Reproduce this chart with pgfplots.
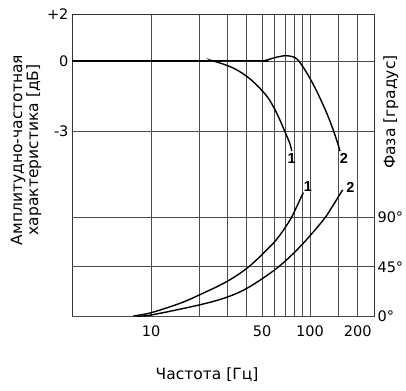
\documentclass[border=0pt]{standalone}
\usepackage{fontspec}
\setmainfont{DejaVu Sans}
\newfontfamily\labfont{Liberation Sans}
\usepackage{pgfplots}
\pgfplotsset{compat=1.18}
\newcommand{\fs}{\fontsize{14.5}{14.5}\selectfont}
\newcommand{\fl}{\fontsize{15.5}{14.5}\selectfont}
\begin{document}
\begin{tikzpicture}
\useasboundingbox (-72pt,-74pt) rectangle (334pt,316pt);
\begin{semilogxaxis}[
  scale only axis, width=302pt, height=302pt,
  xmin=3.18, xmax=253,
  at={(0pt,0pt)}, anchor=south west,
  clip=false,
  major tick length=0pt, minor tick length=0pt,
  tick label style={font=\fs},
  axis line style={line width=0.8pt, black!80},
  grid style={line width=0.7pt, black!70},
  ymin=-10.88, ymax=2,
  xtick={10,50,100,200}, xticklabels={10,50,100,200},
  minor xtick={20,30,40,60,70,80,90,150},
  xmajorgrids, xminorgrids,
  ytick={-3,0,2}, yticklabels={-3,0,+2},
  ymajorgrids,
  xticklabel style={yshift=-6pt},
]
\addplot[black, line width=1.4pt, smooth, tension=0.5] coordinates {
(3.18,0) (20,0) (24.4,0) (33.0,-0.31) (42.0,-0.77) (53.5,-1.50) (61.8,-2.23) (69.7,-3.03) (75.0,-3.55) (76.8,-3.85)};
\addplot[black, line width=1.4pt, smooth, tension=0.5] coordinates {
(3.18,0) (45,0) (50.9,0) (61.8,0.16) (71.5,0.22) (82.6,0.09) (95.5,-0.51) (110.4,-1.30) (127.6,-2.23) (140.4,-2.96) (150.9,-3.60) (154.6,-3.85)};
\node[anchor=north, inner sep=1pt, yshift=-1pt, font=\labfont\bfseries\fs] at (axis cs:76.8,-3.85) {1};
\node[anchor=north, inner sep=1pt, xshift=4pt, yshift=-1pt, font=\labfont\bfseries\fs] at (axis cs:154.6,-3.85) {2};
\node[font=\fl, rotate=90, align=center] at (axis description cs:-0.152,0.55) {Амплитудно-частотная\\характеристика [дБ]};
\node[font=\fl] at (axis description cs:0.447,-0.195) {Частота [Гц]};
\node[font=\fl, rotate=90] at (axis description cs:1.056,0.675) {Фаза [градус]};
\end{semilogxaxis}
\begin{semilogxaxis}[
  scale only axis, width=302pt, height=302pt,
  xmin=3.18, xmax=253,
  at={(0pt,0pt)}, anchor=south west,
  clip=false,
  major tick length=0pt, minor tick length=0pt,
  tick label style={font=\fs},
  axis line style={line width=0.8pt, black!80},
  grid style={line width=0.7pt, black!70},
  ymin=0, ymax=276,
  axis y line*=right, axis x line=none,
  ytick={0,45,90}, yticklabels={0°,45°,90°},
  ymajorgrids,
]
\addplot[black, line width=1.4pt, smooth, tension=0.55] coordinates {
(7.74,0) (10,3.0) (15.2,11.6) (20.1,19.2) (29.9,31.4) (40.9,44.6) (56.1,63.4) (64.8,74.1) (75.0,87.8) (82.6,100.0) (90.8,112.8)};
\addplot[black, line width=1.4pt, smooth, tension=0.55] coordinates {
(8.13,0) (10,0.9) (20.1,10.1) (29.9,17.1) (40.9,26.0) (61.8,43.6) (86.7,63.4) (121.4,87.8) (140.4,101.6) (160.7,115.3)};
\node[anchor=south west, inner sep=0.5pt, font=\labfont\bfseries\fs] at (axis cs:90.8,112.8) {1};
\node[anchor=south west, xshift=3pt, yshift=-3pt, inner sep=0.5pt, font=\labfont\bfseries\fs] at (axis cs:160.7,115.3) {2};
\end{semilogxaxis}
\end{tikzpicture}
\end{document}
